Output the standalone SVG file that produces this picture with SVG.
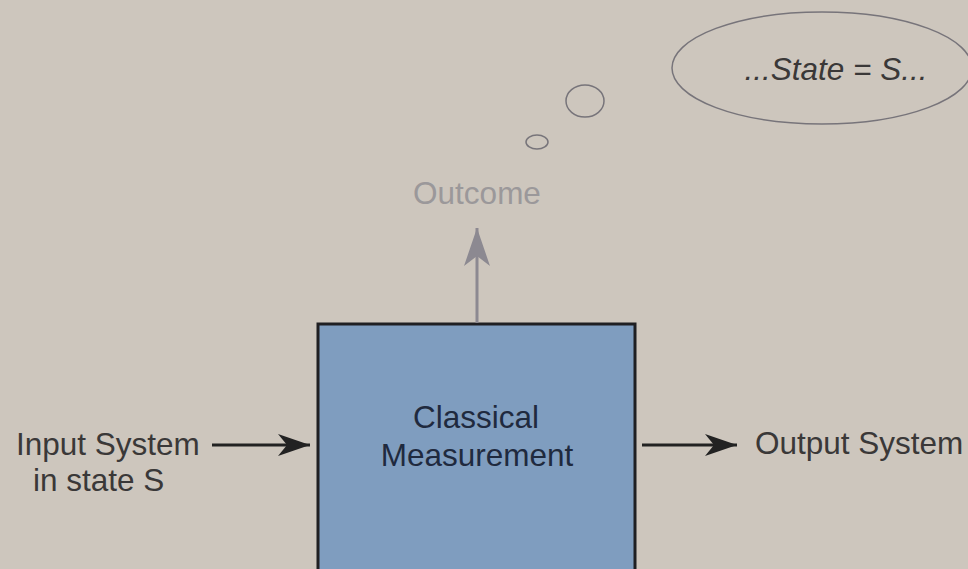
<svg xmlns="http://www.w3.org/2000/svg" width="968" height="569" viewBox="0 0 968 569">
<defs>
<style>
.lbl{font-family:"Liberation Sans",Arial,sans-serif;font-size:31.5px;fill:#3a3838}
.box{fill:#7f9dbf;stroke:#1f1f22;stroke-width:3}
.conn{stroke:#222;stroke-width:3;fill:none}
.think{fill:none;stroke:#77747a;stroke-width:1.5}
</style>
<marker id="ah" markerWidth="34" markerHeight="24" refX="32" refY="12" orient="auto" markerUnits="userSpaceOnUse">
<path d="M0,1 L32,12 L0,23 L9,12 Z" fill="#222"/>
</marker>
<marker id="ahg" markerWidth="40" markerHeight="28" refX="38" refY="14" orient="auto" markerUnits="userSpaceOnUse">
<path d="M0,1 L38,14 L0,27 L10,14 Z" fill="#8c8991"/>
</marker>
</defs>
<rect width="968" height="569" fill="#cdc6bd"/>
<g id="thought">
<ellipse cx="822" cy="68" rx="150" ry="56" class="think"/>
<ellipse cx="585" cy="101" rx="19" ry="16" class="think"/>
<ellipse cx="537" cy="142" rx="11" ry="7" class="think"/>
<text x="836" y="80" class="lbl" text-anchor="middle" font-style="italic">...State = S...</text>
</g>
<g id="measurement">
<rect x="318" y="324" width="317" height="260" class="box"/>
<text x="476" y="428" class="lbl" text-anchor="middle" style="fill:#1f2a3e">Classical</text>
<text x="477" y="466" class="lbl" text-anchor="middle" style="fill:#1f2a3e">Measurement</text>
</g>
<g id="input">
<text x="16" y="455" class="lbl">Input System</text>
<text x="33" y="491" class="lbl">in state S</text>
</g>
<g id="output">
<text x="755" y="454" class="lbl">Output System</text>
</g>
<g id="outcome">
<text x="477" y="204" class="lbl" text-anchor="middle" style="fill:#9b989a">Outcome</text>
</g>
<g id="connectors">
<line x1="212" y1="445" x2="310" y2="445" class="conn" marker-end="url(#ah)"/>
<line x1="642" y1="445" x2="737" y2="445" class="conn" marker-end="url(#ah)"/>
<line x1="477" y1="323" x2="477" y2="228" style="stroke:#8c8991;stroke-width:3" marker-end="url(#ahg)"/>
</g>
</svg>
